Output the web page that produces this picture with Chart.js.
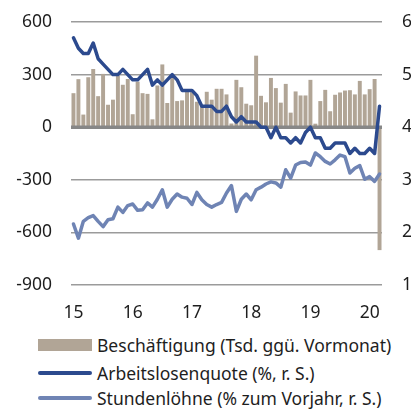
<!DOCTYPE html>
<html>
<head>
<meta charset="utf-8">
<script src="https://cdn.jsdelivr.net/npm/chart.js@4.4.1/dist/chart.umd.min.js"></script>
<style>
  body { margin: 0; background: #fff; font-family: "Noto Sans", sans-serif; }
  #wrap { position: relative; width: 411px; height: 410px; }
  #chart { position: absolute; left: 0; top: 0; }
  .item { position: absolute; left: 38px; height: 24px; display: flex; align-items: center; font-size: 17.5px; color: #1e1e1e; white-space: nowrap; }
  .sw { width: 54px; margin-right: 5px; }
</style>
</head>
<body>
<div id="wrap">
  <canvas id="chart" width="411" height="330"></canvas>
  <div class="item" style="top:333px"><span class="sw" style="height:12px;background:#b1a596"></span>Beschäftigung (Tsd. ggü. Vormonat)</div>
  <div class="item" style="top:361px"><span class="sw" style="height:3.5px;background:#2c4a8e;border-radius:2px"></span>Arbeitslosenquote (%, r. S.)</div>
  <div class="item" style="top:386px"><span class="sw" style="height:3.5px;background:#6f84b4;border-radius:2px"></span>Stundenlöhne (% zum Vorjahr, r. S.)</div>
</div>
<script>
// Monthly data Jan 2015 - Mar 2020
let years = ["15", "16", "17", "18", "19", "20"];
let monthNames = ["Jan", "Feb", "Mar", "Apr", "May", "Jun", "Jul", "Aug", "Sep", "Oct", "Nov", "Dec"];

// employment change, thousands (left axis)
let employment = [
  194, 274, 72, 285, 332, 177, 304, 128, 157, 294, 242, 275,
  74, 260, 194, 190, 45, 238, 358, 138, 304, 149, 153, 213,
  200, 145, 119, 202, 157, 219, 219, 187, 21, 270, 228, 134,
  125, 408, 179, 142, 281, 223, 140, 247, 83, 204, 181, 181,
  270, 20, 149, 213, 91, 185, 198, 209, 211, 187, 264, 187,
  217, 275, -701
];

// unemployment rate, % (right axis)
let unemploymentRate = [
  5.7, 5.5, 5.4, 5.4, 5.6, 5.3, 5.2, 5.1, 5.0, 5.0, 5.1, 5.0,
  4.9, 4.9, 5.0, 5.1, 4.8, 4.9, 4.8, 4.9, 5.0, 4.9, 4.7, 4.7,
  4.7, 4.6, 4.4, 4.4, 4.4, 4.3, 4.3, 4.4, 4.2, 4.1, 4.2, 4.1,
  4.1, 4.1, 4.0, 4.0, 3.8, 4.0, 3.8, 3.8, 3.7, 3.8, 3.7, 3.9,
  4.0, 3.8, 3.8, 3.6, 3.6, 3.7, 3.7, 3.7, 3.5, 3.6, 3.5, 3.5,
  3.6, 3.5, 4.4
];

// hourly earnings, % y/y (right axis)
let hourlyWages = [
  2.16, 1.89, 2.21, 2.28, 2.32, 2.21, 2.11, 2.24, 2.26, 2.48, 2.38, 2.51,
  2.54, 2.42, 2.43, 2.56, 2.48, 2.63, 2.81, 2.48, 2.63, 2.73, 2.67, 2.65,
  2.53, 2.76, 2.62, 2.53, 2.48, 2.53, 2.57, 2.75, 2.89, 2.40, 2.63, 2.73,
  2.62, 2.81, 2.86, 2.92, 2.96, 2.94, 2.86, 3.19, 3.03, 3.28, 3.33, 3.34,
  3.28, 3.51, 3.44, 3.35, 3.30, 3.38, 3.47, 3.44, 3.13, 3.22, 3.27, 3.01,
  3.06, 2.97, 3.11
];

let labels = employment.map((v, i) => monthNames[i % 12] + " " + years[Math.floor(i / 12)]);

let barColor = "#b1a596";
let rateColor = "#2c4a8e";
let wageColor = "#6f84b4";
let gridColor = "#9b9b9b";
let tickFont = { family: "Noto Sans", size: 17.5 };

// thick zero line, drawn over the bars but under the lines
const zeroLinePlugin = {
  id: "zeroLine",
  afterDatasetDraw: (chart, args) => {
    if (args.index !== 0) return;
    const { ctx, chartArea, scales } = chart;
    let y = scales.y.getPixelForValue(0);
    ctx.save();
    ctx.strokeStyle = "#878787";
    ctx.lineWidth = 3.5;
    ctx.beginPath();
    ctx.moveTo(chartArea.left, y);
    ctx.lineTo(chartArea.right, y);
    ctx.stroke();
    ctx.restore();
  }
};

// keep the plot area fixed, labels may overflow into the padding
const fitVertical = (w) => (scale) => {
  scale.width = w;
  scale.paddingTop = 0;
  scale.paddingBottom = 0;
};

new Chart(document.getElementById("chart"), {
  data: {
    labels: labels,
    datasets: [
      {
        type: "bar",
        label: "Beschäftigung (Tsd. ggü. Vormonat)",
        data: employment,
        backgroundColor: barColor,
        barPercentage: 0.8,
        categoryPercentage: 1.0,
        yAxisID: "y",
        order: 3
      },
      {
        type: "line",
        label: "Arbeitslosenquote (%, r. S.)",
        data: unemploymentRate,
        borderColor: rateColor,
        borderWidth: 3.5,
        pointRadius: 0,
        tension: 0,
        borderJoinStyle: "round",
        borderCapStyle: "round",
        yAxisID: "y1",
        order: 1
      },
      {
        type: "line",
        label: "Stundenlöhne (% zum Vorjahr, r. S.)",
        data: hourlyWages,
        borderColor: wageColor,
        borderWidth: 3.5,
        pointRadius: 0,
        tension: 0,
        borderJoinStyle: "round",
        borderCapStyle: "round",
        yAxisID: "y1",
        order: 2
      }
    ]
  },
  plugins: [zeroLinePlugin],
  options: {
    responsive: false,
    animation: false,
    devicePixelRatio: 1,
    layout: { padding: { top: 22, left: 0, right: 0, bottom: 0 } },
    plugins: {
      legend: { display: false },
      tooltip: { enabled: false }
    },
    scales: {
      x: {
        offset: true,
        grid: { display: false, drawTicks: false },
        border: { display: false },
        afterFit: (scale) => {
          scale.height = 45;
          scale.paddingLeft = 0;
          scale.paddingRight = 0;
        },
        ticks: {
          autoSkip: false,
          maxRotation: 0,
          padding: 18,
          color: "#1e1e1e",
          font: tickFont,
          callback: (value, index) => index % 12 === 0 ? years[index / 12] : ""
        }
      },
      y: {
        position: "left",
        min: -900,
        max: 600,
        grid: {
          drawTicks: false,
          lineWidth: 1.5,
          color: (c) => c.tick && c.tick.value === 0 ? "rgba(0,0,0,0)" : gridColor
        },
        border: { display: false },
        afterFit: fitVertical(71),
        ticks: { stepSize: 300, padding: 19, color: "#1e1e1e", font: tickFont }
      },
      y1: {
        position: "right",
        min: 1,
        max: 6,
        grid: { display: false, drawTicks: false },
        border: { display: false },
        afterFit: fitVertical(29),
        ticks: { stepSize: 1, padding: 20, color: "#1e1e1e", font: tickFont }
      }
    }
  }
});
</script>
</body>
</html>
